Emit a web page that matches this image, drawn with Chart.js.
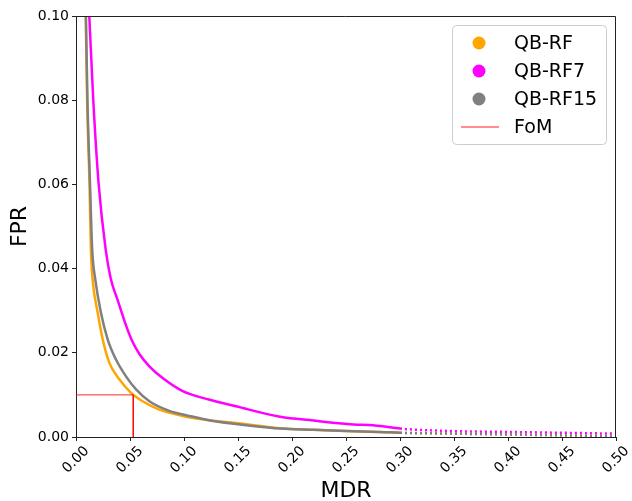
<!DOCTYPE html>
<html>
<head>
<meta charset="utf-8">
<script src="https://cdn.jsdelivr.net/npm/chart.js@4.4.1/dist/chart.umd.min.js"></script>
<style>
  html, body { margin: 0; padding: 0; background: #fff; }
  #wrap { width: 632px; height: 501px; }
</style>
</head>
<body>
<div id="wrap"><canvas id="chart" width="632" height="501"></canvas></div>
<script>
// values (MDR on x, FPR on y)
const rfMDR   = [0.0090, 0.0103, 0.0125, 0.0138, 0.0154, 0.0201, 0.0247, 0.0309, 0.0401, 0.0509, 0.0617, 0.0772, 0.0988, 0.123, 0.148, 0.189, 0.22, 0.25, 0.30, 0.35, 0.40, 0.45, 0.50];
const rfFPR   = [0.100, 0.080, 0.060, 0.0445, 0.0374, 0.0295, 0.0232, 0.0176, 0.0137, 0.0105, 0.0085, 0.0065, 0.0050, 0.0040, 0.0033, 0.0021, 0.0017, 0.0014, 0.0010, 0.0008, 0.0006, 0.0004, 0.0002];

const rf7MDR  = [0.0123, 0.016, 0.021, 0.0275, 0.0322, 0.0386, 0.0463, 0.052, 0.059, 0.0679, 0.0802, 0.0988, 0.123, 0.148, 0.189, 0.22, 0.251, 0.282, 0.30, 0.35, 0.40, 0.45, 0.50];
const rf7FPR  = [0.100, 0.080, 0.060, 0.0445, 0.0376, 0.0325, 0.0265, 0.0228, 0.0196, 0.0168, 0.0140, 0.0109, 0.0089, 0.0073, 0.0048, 0.0039, 0.0031, 0.0026, 0.0020, 0.0014, 0.0012, 0.0010, 0.0008];

const rf15MDR = [0.0092, 0.0106, 0.013, 0.0150, 0.0179, 0.0231, 0.0293, 0.037, 0.0463, 0.0556, 0.0679, 0.0864, 0.105, 0.127, 0.158, 0.189, 0.22, 0.25, 0.282, 0.30, 0.35, 0.40, 0.45, 0.50];
const rf15FPR = [0.100, 0.080, 0.060, 0.0445, 0.0374, 0.0295, 0.0232, 0.0184, 0.0144, 0.0113, 0.0085, 0.0062, 0.0050, 0.0038, 0.0028, 0.0020, 0.0017, 0.0014, 0.0012, 0.0010, 0.0008, 0.0006, 0.0004, 0.0002];

const fomMDR  = [0, 0.053, 0.053];
const fomFPR  = [0.01, 0.01, 0];

const xTickValues = [0, 0.05, 0.10, 0.15, 0.20, 0.25, 0.30, 0.35, 0.40, 0.45, 0.50];
const yTickValues = [0, 0.02, 0.04, 0.06, 0.08, 0.10];

const FONT = "'DejaVu Sans', sans-serif";

function toPoints(xs, ys) {
  return xs.map((x, i) => ({ x, y: ys[i] }));
}

// dotted look of the sparse tail
const tailDash = ctx => ctx.p0.parsed.x >= 0.3 ? [2, 3] : undefined;

// matplotlib-like box: top/right spines + legend inside the axes
const framePlugin = {
  id: 'frame',
  afterDraw(chart) {
    const { ctx, chartArea: a } = chart;
    ctx.save();
    ctx.strokeStyle = '#222';
    ctx.lineWidth = 1;
    ctx.beginPath();
    ctx.moveTo(a.left, a.top + 0.5);
    ctx.lineTo(a.right - 0.5, a.top + 0.5);
    ctx.lineTo(a.right - 0.5, a.bottom);
    ctx.stroke();

    // legend
    const bx = 452.5, by = 25.5, bw = 154, bh = 119, r = 4;
    ctx.fillStyle = 'rgba(255,255,255,0.8)';
    ctx.strokeStyle = '#cccccc';
    ctx.beginPath();
    ctx.roundRect(bx, by, bw, bh, r);
    ctx.fill();
    ctx.stroke();

    const rows = [43, 71, 99, 127];
    const items = chart.data.datasets.slice().sort((p, q) => p.legendIndex - q.legendIndex);
    ctx.font = '19px ' + FONT;
    ctx.textBaseline = 'middle';
    ctx.textAlign = 'left';
    items.forEach((ds, i) => {
      const y = rows[i];
      if (ds.legendLine) {
        ctx.strokeStyle = 'rgba(255,0,0,0.6)';
        ctx.lineWidth = 1.5;
        ctx.beginPath();
        ctx.moveTo(461, y);
        ctx.lineTo(499, y);
        ctx.stroke();
      } else {
        ctx.fillStyle = ds.borderColor;
        ctx.beginPath();
        ctx.arc(479, y, 6.5, 0, Math.PI * 2);
        ctx.fill();
      }
      ctx.fillStyle = '#000';
      ctx.fillText(ds.label, 514, y + 1);
    });
    ctx.restore();
  }
};

const curve = {
  showLine: true, pointRadius: 0, borderWidth: 2.5,
  cubicInterpolationMode: 'monotone',
  segment: { borderDash: tailDash }
};

new Chart(document.getElementById('chart'), {
  type: 'scatter',
  data: {
    datasets: [
      Object.assign({
        label: 'QB-RF', legendIndex: 0, order: 3,
        data: toPoints(rfMDR, rfFPR),
        borderColor: '#ffa500', backgroundColor: '#ffa500'
      }, curve),
      Object.assign({
        label: 'QB-RF7', legendIndex: 1, order: 2,
        data: toPoints(rf7MDR, rf7FPR),
        borderColor: '#ff00ff', backgroundColor: '#ff00ff'
      }, curve),
      Object.assign({
        label: 'QB-RF15', legendIndex: 2, order: 1,
        data: toPoints(rf15MDR, rf15FPR),
        borderColor: '#808080', backgroundColor: '#808080'
      }, curve),
      {
        label: 'FoM', legendIndex: 3, order: 0, legendLine: true,
        data: toPoints(fomMDR, fomFPR),
        borderColor: 'rgba(255,0,0,0.85)', backgroundColor: '#ff0000',
        showLine: true, pointRadius: 0, borderWidth: 1
      }
    ]
  },
  options: {
    responsive: false,
    animation: false,
    layout: { padding: { top: 16, right: 16, left: 0, bottom: 0 } },
    plugins: {
      legend: { display: false },
      tooltip: { enabled: false }
    },
    scales: {
      x: {
        type: 'linear',
        min: 0, max: 0.5,
        afterBuildTicks: s => { s.ticks = xTickValues.map(v => ({ value: v })); },
        afterFit: s => { s.height = 64; },
        grid: { drawOnChartArea: false, drawTicks: true, tickLength: 4, color: '#222' },
        border: { display: true, color: '#222', width: 1 },
        ticks: {
          color: '#000',
          font: { family: FONT, size: 14 },
          minRotation: 45, maxRotation: 45,
          labelOffset: 11,
          padding: 2,
          callback: v => v.toFixed(2)
        },
        title: {
          display: true, text: 'MDR', color: '#000',
          font: { family: FONT, size: 22 },
          padding: { top: 0, bottom: -3 }
        }
      },
      y: {
        type: 'linear',
        min: 0, max: 0.1,
        afterBuildTicks: s => { s.ticks = yTickValues.map(v => ({ value: v })); },
        afterFit: s => { s.width = 76; },
        grid: { drawOnChartArea: false, drawTicks: true, tickLength: 4, color: '#222' },
        border: { display: true, color: '#222', width: 1 },
        ticks: {
          color: '#000',
          font: { family: FONT, size: 14 },
          padding: 3,
          callback: v => v.toFixed(2)
        },
        title: {
          display: true, text: 'FPR', color: '#000',
          font: { family: FONT, size: 22 },
          padding: { top: 7, bottom: 4 }
        }
      }
    }
  },
  plugins: [framePlugin]
});
</script>
</body>
</html>
